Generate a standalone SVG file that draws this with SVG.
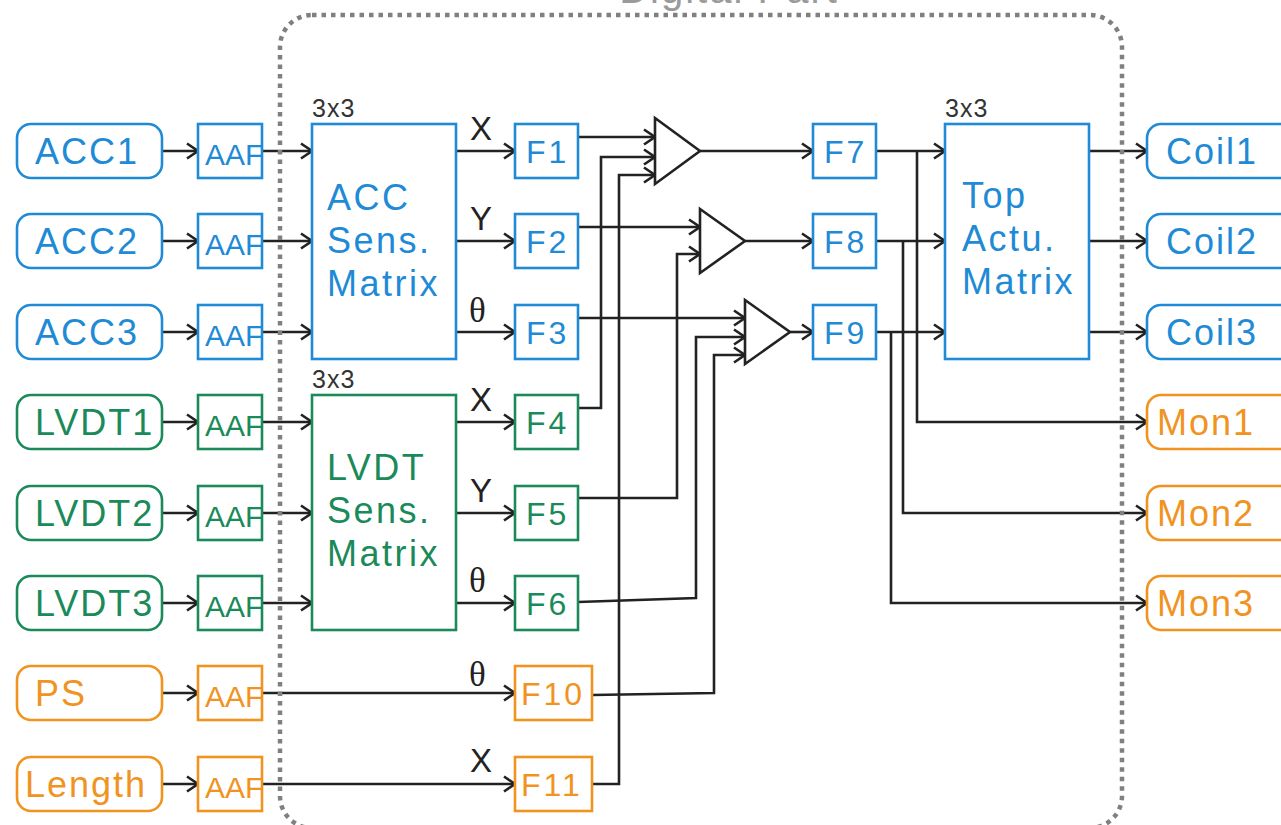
<svg xmlns="http://www.w3.org/2000/svg" width="1281" height="825" viewBox="0 0 1281 825">
  <defs>
    <marker id="arr" viewBox="-12 -9 14 18" refX="0" refY="0" markerWidth="14" markerHeight="18" markerUnits="userSpaceOnUse" orient="auto">
      <path d="M-11,-7.5 L0,0 L-11,7.5" fill="none" stroke="#222" stroke-width="2.6" stroke-linejoin="miter"/>
    </marker>
    <style>
      .blue { stroke: #1f8ad5; fill: #fff; stroke-width: 2.6; }
      .green { stroke: #1b8a5a; fill: #fff; stroke-width: 2.6; }
      .orange { stroke: #f0931f; fill: #fff; stroke-width: 2.6; }
      .tb { fill: #1f8ad5; }
      .tg { fill: #1b8a5a; }
      .to { fill: #f0931f; }
      text { font-family: "Liberation Sans", Arial, sans-serif; }
      .big { font-size: 36px; letter-spacing: 2px; }
      .aaf { font-size: 30px; }
      .flt { font-size: 32px; letter-spacing: 3px; }
      .mtx { font-size: 36px; letter-spacing: 2.5px; }
      .dim { font-size: 25px; letter-spacing: 1px; fill: #333; }
      .lab { font-size: 33px; fill: #222; }
      .theta { font-family: "Liberation Serif", "Times New Roman", serif; font-size: 35px; fill: #222; }
      .wire { fill: none; stroke: #222; stroke-width: 2.6; }
      .wa { fill: none; stroke: #222; stroke-width: 2.6; marker-end: url(#arr); }
      .sum { fill: #fff; stroke: #222; stroke-width: 2.6; stroke-linejoin: miter; }
    </style>
  </defs>

  <rect width="1281" height="825" fill="#fff"/>

  <!-- section title, mostly above the frame -->
  <text x="729" y="3" text-anchor="middle" font-size="40" letter-spacing="2" fill="#9a9a9a">Digital Part</text>

  <!-- connectors -->
  <g id="connectors">
    <!-- sensors to anti-aliasing filters -->
    <path class="wa" d="M162,151 H198"/>
    <path class="wa" d="M162,241 H198"/>
    <path class="wa" d="M162,332 H198"/>
    <path class="wa" d="M162,422 H198"/>
    <path class="wa" d="M162,513 H198"/>
    <path class="wa" d="M162,603 H198"/>
    <path class="wa" d="M162,693 H198"/>
    <path class="wa" d="M162,784 H198"/>
    <!-- filters to sensing matrices -->
    <path class="wa" d="M262,151 H312"/>
    <path class="wa" d="M262,241 H312"/>
    <path class="wa" d="M262,332 H312"/>
    <path class="wa" d="M262,422 H312"/>
    <path class="wa" d="M262,513 H312"/>
    <path class="wa" d="M262,603 H312"/>
    <path class="wa" d="M262,693 H515"/>
    <path class="wa" d="M262,784 H515"/>
    <!-- matrices to DOF filters -->
    <path class="wa" d="M456,151 H515"/>
    <path class="wa" d="M456,241 H515"/>
    <path class="wa" d="M456,332 H515"/>
    <path class="wa" d="M456,422 H515"/>
    <path class="wa" d="M456,513 H515"/>
    <path class="wa" d="M456,603 H515"/>
    <!-- blending into summing junctions -->
    <path class="wa" d="M578,137 H655"/>
    <path class="wa" d="M578,408 H601 V157 H655"/>
    <path class="wa" d="M592,784 H619 V175 H655"/>
    <path class="wa" d="M578,227 H700"/>
    <path class="wa" d="M578,498 H677 V254 H700"/>
    <path class="wa" d="M578,318 H745"/>
    <path class="wa" d="M578,602 L696,598 V337 H745"/>
    <path class="wa" d="M592,695 L714,693 V355 H745"/>
    <!-- junctions to control filters -->
    <path class="wa" d="M700,151 H813"/>
    <path class="wa" d="M745,241 H813"/>
    <path class="wa" d="M790,332 H813"/>
    <!-- control filters to actuation matrix -->
    <path class="wa" d="M876,151 H945"/>
    <path class="wa" d="M876,241 H945"/>
    <path class="wa" d="M876,332 H945"/>
    <!-- monitor taps -->
    <path class="wa" d="M917,151 V422 H1147"/>
    <path class="wa" d="M903,241 V513 H1147"/>
    <path class="wa" d="M891,332 V603 H1147"/>
    <!-- actuation matrix to coils -->
    <path class="wa" d="M1089,151 H1147"/>
    <path class="wa" d="M1089,241 H1147"/>
    <path class="wa" d="M1089,332 H1147"/>
  </g>

  <!-- sensor inputs -->
  <g id="acc1"><rect class="blue" x="17" y="124" width="145" height="54" rx="14"/><text class="big tb" x="35" y="164">ACC1</text></g>
  <g id="acc2"><rect class="blue" x="17" y="214" width="145" height="54" rx="14"/><text class="big tb" x="35" y="254">ACC2</text></g>
  <g id="acc3"><rect class="blue" x="17" y="305" width="145" height="54" rx="14"/><text class="big tb" x="35" y="345">ACC3</text></g>
  <g id="lvdt1"><rect class="green" x="17" y="395" width="145" height="54" rx="14"/><text class="big tg" x="35" y="435">LVDT1</text></g>
  <g id="lvdt2"><rect class="green" x="17" y="486" width="145" height="54" rx="14"/><text class="big tg" x="35" y="526">LVDT2</text></g>
  <g id="lvdt3"><rect class="green" x="17" y="576" width="145" height="54" rx="14"/><text class="big tg" x="35" y="616">LVDT3</text></g>
  <g id="ps"><rect class="orange" x="17" y="666" width="145" height="54" rx="14"/><text class="big to" x="35" y="706">PS</text></g>
  <g id="length"><rect class="orange" x="17" y="757" width="145" height="54" rx="14"/><text class="big to" x="25" y="797">Length</text></g>

  <!-- anti-aliasing filters -->
  <g id="aaf1"><rect class="blue" x="198" y="124" width="64" height="54"/><text class="aaf tb" x="205" y="165">AAF</text></g>
  <g id="aaf2"><rect class="blue" x="198" y="214" width="64" height="54"/><text class="aaf tb" x="205" y="255">AAF</text></g>
  <g id="aaf3"><rect class="blue" x="198" y="305" width="64" height="54"/><text class="aaf tb" x="205" y="346">AAF</text></g>
  <g id="aaf4"><rect class="green" x="198" y="395" width="64" height="54"/><text class="aaf tg" x="205" y="436">AAF</text></g>
  <g id="aaf5"><rect class="green" x="198" y="486" width="64" height="54"/><text class="aaf tg" x="205" y="527">AAF</text></g>
  <g id="aaf6"><rect class="green" x="198" y="576" width="64" height="54"/><text class="aaf tg" x="205" y="617">AAF</text></g>
  <g id="aaf7"><rect class="orange" x="198" y="666" width="64" height="54"/><text class="aaf to" x="205" y="707">AAF</text></g>
  <g id="aaf8"><rect class="orange" x="198" y="757" width="64" height="54"/><text class="aaf to" x="205" y="798">AAF</text></g>

  <!-- sensing matrices -->
  <g id="acc-matrix">
    <text class="dim" x="312" y="117">3x3</text>
    <rect class="blue" x="312" y="124" width="144" height="235"/>
    <text class="mtx tb" x="327" y="210">ACC</text>
    <text class="mtx tb" x="327" y="253">Sens.</text>
    <text class="mtx tb" x="327" y="296">Matrix</text>
  </g>
  <g id="lvdt-matrix">
    <text class="dim" x="312" y="388">3x3</text>
    <rect class="green" x="312" y="395" width="144" height="235"/>
    <text class="mtx tg" x="327" y="480">LVDT</text>
    <text class="mtx tg" x="327" y="523">Sens.</text>
    <text class="mtx tg" x="327" y="566">Matrix</text>
  </g>

  <!-- degree-of-freedom labels -->
  <g id="dof-labels">
    <text class="lab" x="470" y="140">X</text>
    <text class="lab" x="470" y="230">Y</text>
    <text class="theta" x="469" y="322">θ</text>
    <text class="lab" x="470" y="411">X</text>
    <text class="lab" x="470" y="502">Y</text>
    <text class="theta" x="469" y="592">θ</text>
    <text class="theta" x="469" y="686">θ</text>
    <text class="lab" x="470" y="772">X</text>
  </g>

  <!-- DOF filters -->
  <g id="f1"><rect class="blue" x="515" y="124" width="63" height="54"/><text class="flt tb" x="526" y="163">F1</text></g>
  <g id="f2"><rect class="blue" x="515" y="214" width="63" height="54"/><text class="flt tb" x="526" y="253">F2</text></g>
  <g id="f3"><rect class="blue" x="515" y="305" width="63" height="54"/><text class="flt tb" x="526" y="344">F3</text></g>
  <g id="f4"><rect class="green" x="515" y="395" width="63" height="54"/><text class="flt tg" x="526" y="434">F4</text></g>
  <g id="f5"><rect class="green" x="515" y="486" width="63" height="54"/><text class="flt tg" x="526" y="525">F5</text></g>
  <g id="f6"><rect class="green" x="515" y="576" width="63" height="54"/><text class="flt tg" x="526" y="615">F6</text></g>
  <g id="f10"><rect class="orange" x="515" y="666" width="77" height="54"/><text class="flt to" x="521" y="705">F10</text></g>
  <g id="f11"><rect class="orange" x="515" y="757" width="77" height="54"/><text class="flt to" x="521" y="796">F11</text></g>

  <!-- summing junctions -->
  <g id="sum1"><polygon class="sum" points="655,118 700,151 655,184"/></g>
  <g id="sum2"><polygon class="sum" points="700,209 745,241 700,273"/></g>
  <g id="sum3"><polygon class="sum" points="745,300 790,332 745,364"/></g>

  <!-- control filters -->
  <g id="f7"><rect class="blue" x="813" y="124" width="63" height="54"/><text class="flt tb" x="824" y="163">F7</text></g>
  <g id="f8"><rect class="blue" x="813" y="214" width="63" height="54"/><text class="flt tb" x="824" y="253">F8</text></g>
  <g id="f9"><rect class="blue" x="813" y="305" width="63" height="54"/><text class="flt tb" x="824" y="344">F9</text></g>

  <!-- actuation matrix -->
  <g id="top-matrix">
    <text class="dim" x="945" y="117">3x3</text>
    <rect class="blue" x="945" y="124" width="144" height="235"/>
    <text class="mtx tb" x="962" y="208">Top</text>
    <text class="mtx tb" x="962" y="251">Actu.</text>
    <text class="mtx tb" x="962" y="294">Matrix</text>
  </g>

  <!-- outputs -->
  <g id="coil1"><rect class="blue" x="1147" y="124" width="170" height="54" rx="14"/><text class="big tb" x="1166" y="164">Coil1</text></g>
  <g id="coil2"><rect class="blue" x="1147" y="214" width="170" height="54" rx="14"/><text class="big tb" x="1166" y="254">Coil2</text></g>
  <g id="coil3"><rect class="blue" x="1147" y="305" width="170" height="54" rx="14"/><text class="big tb" x="1166" y="345">Coil3</text></g>
  <g id="mon1"><rect class="orange" x="1147" y="395" width="170" height="54" rx="14"/><text class="big to" x="1157" y="435">Mon1</text></g>
  <g id="mon2"><rect class="orange" x="1147" y="486" width="170" height="54" rx="14"/><text class="big to" x="1157" y="526">Mon2</text></g>
  <g id="mon3"><rect class="orange" x="1147" y="576" width="170" height="54" rx="14"/><text class="big to" x="1157" y="616">Mon3</text></g>

  <!-- digital part boundary -->
  <g id="digital-part">
    <rect x="280" y="15" width="842" height="813" rx="32" fill="none" stroke="#808080" stroke-width="4.5" stroke-dasharray="4.5 5"/>
  </g>
</svg>
